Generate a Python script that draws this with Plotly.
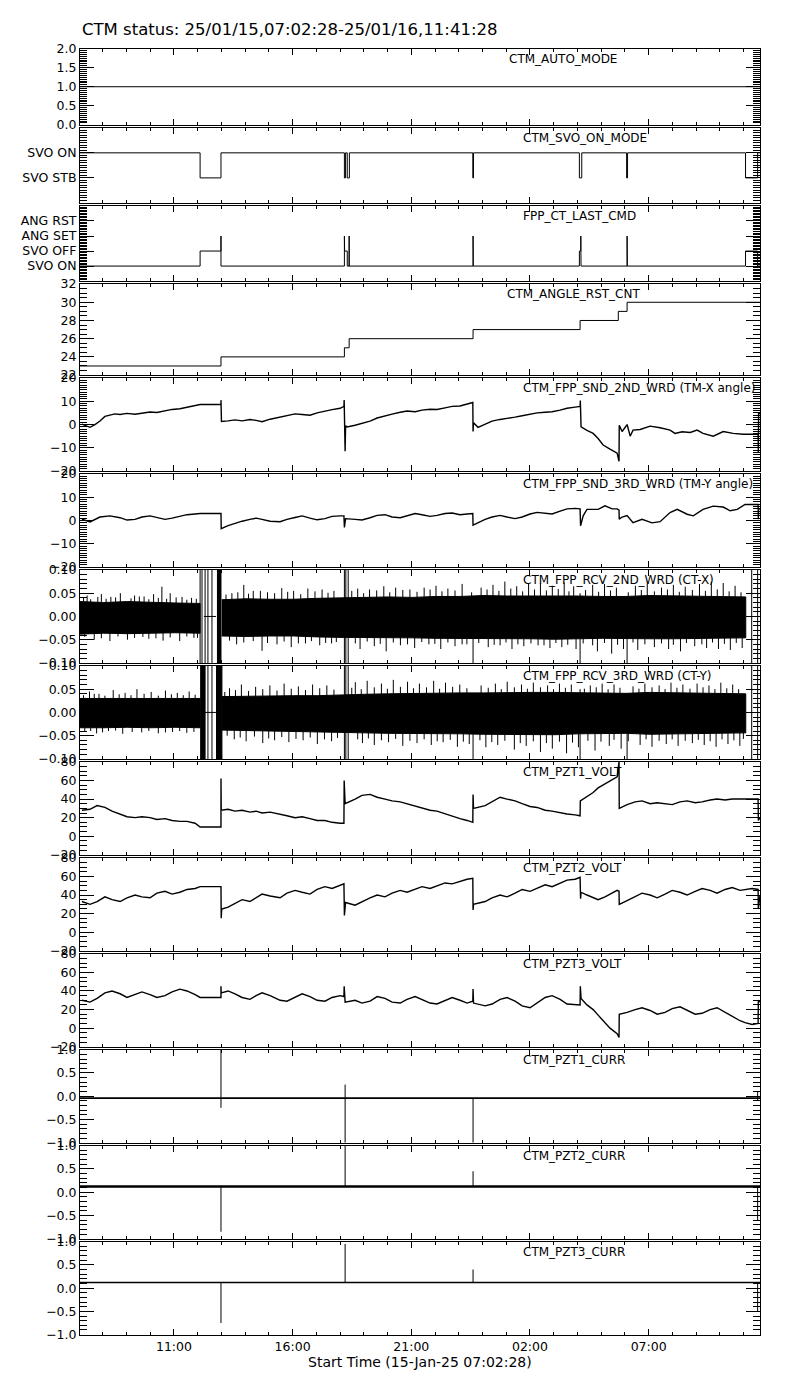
import pandas as pd
import plotly.graph_objects as go

START = pd.Timestamp("2025-01-15 07:02:28")
END = pd.Timestamp("2025-01-16 11:41:28")
END_H = (END - START) / pd.Timedelta(hours=1)

TITLE = "CTM status: 25/01/15,07:02:28-25/01/16,11:41:28"
XTITLE = "Start Time (15-Jan-25 07:02:28)"

labels = ["CTM_AUTO_MODE", "CTM_SVO_ON_MODE", "FPP_CT_LAST_CMD", "CTM_ANGLE_RST_CNT",
          "CTM_FPP_SND_2ND_WRD (TM-X angle)", "CTM_FPP_SND_3RD_WRD (TM-Y angle)",
          "CTM_FPP_RCV_2ND_WRD (CT-X)", "CTM_FPP_RCV_3RD_WRD (CT-Y)",
          "CTM_PZT1_VOLT", "CTM_PZT2_VOLT", "CTM_PZT3_VOLT",
          "CTM_PZT1_CURR", "CTM_PZT2_CURR", "CTM_PZT3_CURR"]

# ---------------- data (time = hours since start) ----------------
auto_t = [0, END_H]
auto_v = [1, 1]

svo_t = [0, 5.06, 5.06, 5.94, 5.94, 11.14, 11.14, 11.19, 11.19, 11.26, 11.26, 11.35, 11.35,
         16.55, 16.55, 16.58, 16.58, 21.04, 21.04, 21.14, 21.14, 23.03, 23.03, 23.07, 23.07,
         28.04, 28.04, 28.55, 28.55, END_H]
svo_v = [1, 1, 0, 0, 1, 1, 0, 0, 1, 1, 0, 0, 1,
         1, 0, 0, 1, 1, 0, 0, 1, 1, 0, 0, 1,
         1, 0, 0, 1, 1]

cmd_t = [0, 5.06, 5.06, 5.94, 5.94, 5.94, 11.14, 11.14, 11.15, 11.26, 11.26, 11.34, 11.34, 11.34,
         16.56, 16.56, 16.57, 21.04, 21.04, 21.10, 21.10, 21.11, 23.05, 23.05, 23.06,
         28.04, 28.04, 28.55, 28.55, END_H]
cmd_v = [0, 0, 1, 1, 2, 0, 0, 2, 1, 1, 0, 0, 2, 0,
         0, 2, 0, 0, 1, 1, 2, 0, 0, 2, 0,
         0, 1, 1, 0, 0]

cnt_t = [0, 5.94, 5.94, 11.14, 11.14, 11.34, 11.34, 16.56, 16.56, 21.07, 21.07, 22.68, 22.68, 23.05, 23.05, END_H]
cnt_v = [23, 23, 24, 24, 25, 25, 26, 26, 27, 27, 28, 28, 29, 29, 30, 30]

snd2_t = [0.08, 0.25, 0.42, 0.63, 0.84, 1.05, 1.26, 1.47, 1.69, 1.98, 2.32, 2.61, 2.95, 3.24, 3.58,
          3.88, 4.21, 4.51, 4.85, 5.06, 5.94, 5.94, 5.96, 6.24, 6.53, 6.83, 7.16, 7.42, 7.67, 8.01,
          8.43, 8.72, 9.06, 9.36, 9.69, 9.99, 10.32, 10.62, 10.96, 11.12, 11.13, 11.15, 11.17, 11.19,
          11.25, 11.59, 11.88, 12.22, 12.52, 12.85, 13.15, 13.49, 13.78, 14.12, 14.41, 14.75, 15.04,
          15.38, 15.68, 16.01, 16.31, 16.55, 16.56, 16.58, 16.77, 17.07, 17.36, 17.70, 17.99, 18.33,
          18.63, 18.96, 19.26, 19.60, 19.89, 20.23, 20.52, 20.86, 21.07, 21.08, 21.11, 21.36, 21.62,
          21.83, 22.04, 22.33, 22.63, 22.71, 22.72, 22.84, 23.05, 23.18, 23.30, 23.60, 24.02, 24.44,
          24.86, 25.07, 25.37, 25.71, 26.00, 26.25, 26.68, 27.10, 27.52, 27.94, 28.44, 28.57, 28.58,
          28.59, END_H]
snd2_v = [0.2, -0.5, -1.2, 0.0, 1.5, 3.5, 4.2, 4.6, 4.3, 4.8, 4.4, 5.0, 5.4, 5.2, 6.0,
          6.5, 6.8, 7.5, 8.3, 8.6, 8.6, 10.5, 1.3, 1.6, 2.0, 1.6, 2.2, 1.8, 1.2, 2.3,
          3.2, 4.0, 4.6, 4.3, 4.0, 5.0, 5.8, 6.4, 7.0, 7.8, 10.5, -0.5, -11.5, -0.5,
          -1.0, -0.3, 0.5, 1.5, 2.8, 3.8, 4.5, 5.3, 5.8, 5.5, 6.2, 6.6, 6.5,
          7.2, 7.8, 8.0, 8.8, 9.5, -3.0, 0.8, -1.2, 0.0, 1.5, 2.2, 2.8, 3.2,
          3.8, 4.5, 5.0, 5.3, 5.5, 6.2, 7.0, 7.5, 7.8, 10.3, -1.0, -2.5, -3.8,
          -6.0, -8.8, -10.6, -12.3, -15.8, -0.3, -3.0, 0.0, -5.0, -2.4, -2.1, -0.7, -1.4,
          -2.4, -3.8, -3.1, -3.4, -2.4, -3.8, -5.0, -3.0, -3.8, -4.2, -4.2, -4.2, -12.0,
          4.7, 4.7]

snd3_t = [0.08, 0.42, 0.84, 1.26, 1.69, 1.98, 2.32, 2.61, 2.95, 3.24, 3.58, 3.88, 4.21, 4.51, 4.85,
          5.06, 5.94, 5.95, 6.24, 6.53, 6.83, 7.16, 7.42, 7.67, 8.01, 8.43, 8.72, 9.06, 9.36, 9.69,
          9.99, 10.32, 10.62, 10.96, 11.12, 11.14, 11.19, 11.59, 11.88, 12.22, 12.52, 12.85, 13.15,
          13.49, 13.78, 14.12, 14.41, 14.75, 15.04, 15.38, 15.68, 16.01, 16.31, 16.55, 16.56, 16.77,
          17.07, 17.36, 17.70, 17.99, 18.33, 18.63, 18.96, 19.26, 19.60, 19.89, 20.23, 20.52, 20.86,
          21.07, 21.09, 21.20, 21.36, 21.83, 22.12, 22.42, 22.63, 22.71, 22.72, 22.84, 23.05, 23.30,
          23.68, 24.10, 24.44, 24.86, 25.16, 25.58, 25.84, 26.25, 26.68, 27.10, 27.39, 27.69, 28.02,
          28.44, 28.57, 28.58, 28.59, END_H]
snd3_v = [0.6, -0.6, 1.5, 2.0, 1.2, 0.2, 0.5, 1.5, 2.0, 1.2, 0.5, 1.0, 1.8, 2.5, 2.8,
          3.0, 3.0, -3.5, -2.2, -1.2, -0.3, 0.5, 1.0, 0.5, -0.3, -0.5, 0.5, 1.3, 2.0, 1.0,
          0.3, 0.8, 1.8, 2.0, 2.0, -3.0, 0.8, 0.5, 0.2, 1.2, 2.2, 2.5, 1.5,
          1.2, 2.0, 3.0, 2.5, 1.8, 2.2, 3.0, 3.2, 2.5, 2.8, 3.0, -2.0, -1.0,
          0.5, 1.5, 2.2, 1.5, 0.8, 1.5, 2.8, 3.5, 3.0, 2.8, 4.0, 5.0, 5.2,
          5.0, -2.3, 2.0, 4.8, 4.8, 6.3, 5.0, 5.0, 4.5, 0.6, 1.5, 2.1, -0.9,
          0.5, -1.0, -0.5, 3.4, 4.8, 2.7, 2.0, 4.8, 6.2, 5.8, 4.2, 4.8, 6.9,
          6.9, 6.9, 0.5, 5.0, 5.0]

# CT receive words: band of the noise (segment times, upper edge, lower edge)
rcv2_env = [
    ([0, 1, 2, 3, 4, 5.06],
     [0.032, 0.030, 0.032, 0.030, 0.029, 0.028],
     [-0.038, -0.036, -0.037, -0.036, -0.035, -0.036]),
    ([5.77, 5.94], [0.11, 0.11], [-0.11, -0.11]),
    ([5.97, 7, 8, 9, 10, 11, 12, 13, 14, 15, 16, 17, 18, 19, 20, 21, 22, 23, 24, 25, 26, 27, 28.05],
     [0.036, 0.038, 0.037, 0.037, 0.039, 0.040, 0.040, 0.042, 0.041, 0.043, 0.043, 0.045, 0.044,
      0.044, 0.045, 0.044, 0.043, 0.043, 0.045, 0.044, 0.043, 0.043, 0.042],
     [-0.042, -0.043, -0.042, -0.042, -0.044, -0.045, -0.045, -0.046, -0.046, -0.047, -0.047, -0.048,
      -0.048, -0.048, -0.049, -0.048, -0.047, -0.047, -0.048, -0.048, -0.047, -0.047, -0.046]),
]
# tall noise excursions
rcv2_peak_t = [0.3, 0.9, 1.3, 1.7, 2.3, 2.7, 3.1, 3.45, 3.8, 4.3, 4.7,
               6.4, 6.9, 7.3, 7.9, 8.5, 9.0, 9.6, 10.2, 10.7, 11.7, 12.2, 12.8, 13.3, 13.9, 14.5,
               15.0, 15.5, 16.1, 16.9, 17.4, 17.9, 18.4, 18.9, 19.4, 19.9, 20.4, 20.8, 21.6, 22.1,
               22.6, 23.4, 23.9, 24.5, 25.0, 25.5, 26.1, 26.6, 27.1, 27.6,
               0.6, 1.26, 2.0, 2.9, 3.5, 4.2, 4.8,
               6.6, 7.67, 8.3, 8.9, 9.5, 10.1, 10.6, 11.8, 12.4, 12.9, 13.5, 14.1, 14.7, 15.2, 15.8,
               16.3, 17.2, 17.7, 18.2, 18.7, 19.3, 19.8, 20.3, 20.9, 21.8, 22.4, 22.9, 23.5, 24.2,
               24.8, 25.3, 25.9, 26.4, 26.9, 27.4, 27.9]
rcv2_peak_v = [0.045, 0.048, 0.042, 0.050, 0.045, 0.043, 0.048, 0.064, 0.050, 0.042, 0.040,
               0.050, 0.068, 0.055, 0.052, 0.061, 0.055, 0.060, 0.058, 0.055, 0.060, 0.058, 0.065,
               0.062, 0.058, 0.062, 0.066, 0.060, 0.070, 0.062, 0.068, 0.075, 0.065, 0.070, 0.072,
               0.066, 0.073, 0.065, 0.068, 0.070, 0.062, 0.066, 0.070, 0.062, 0.068, 0.064, 0.070,
               0.075, 0.072, 0.066,
               -0.050, -0.053, -0.050, -0.048, -0.052, -0.053, -0.046,
               -0.060, -0.074, -0.060, -0.066, -0.058, -0.062, -0.058, -0.070, -0.064, -0.075,
               -0.062, -0.068, -0.060, -0.070, -0.064, -0.060, -0.066, -0.062, -0.070, -0.064,
               -0.062, -0.068, -0.066, -0.070, -0.075, -0.080, -0.070, -0.072, -0.066, -0.070,
               -0.075, -0.064, -0.068, -0.070, -0.072, -0.068]
# smaller excursions along the band edges
rcv2_small_t = [0.15, 0.45, 0.75, 1.1, 1.5, 2.15, 2.5, 2.9, 3.3, 3.65, 4.05, 4.5, 4.9,
                6.15, 6.65, 7.1, 7.6, 8.2, 8.75, 9.3, 9.9, 10.45, 11.45, 11.95, 12.5, 13.05, 13.6,
                14.2, 14.75, 15.25, 15.8, 16.5, 17.15, 17.65, 18.15, 18.65, 19.15, 19.65, 20.15,
                20.6, 21.3, 21.85, 22.35, 23.1, 23.65, 24.2, 24.75, 25.25, 25.8, 26.35, 26.85,
                27.35, 27.85,
                0.2, 0.9, 1.6, 2.3, 2.65, 3.2, 3.8, 4.5, 4.95,
                6.3, 6.9, 7.3, 7.9, 8.6, 9.2, 9.75, 10.35, 10.8, 11.6, 12.1, 12.65, 13.2, 13.8,
                14.4, 14.95, 15.5, 16.1, 16.8, 17.45, 17.95, 18.45, 19.0, 19.55, 20.05, 20.55,
                21.2, 21.6, 22.1, 22.65, 23.3, 23.8, 24.5, 25.0, 25.55, 26.2, 26.65, 27.15, 27.65]
rcv2_small_v = [0.040, 0.037, 0.042, 0.038, 0.041, 0.039, 0.043, 0.037, 0.040, 0.038, 0.041, 0.036, 0.038,
                0.047, 0.052, 0.049, 0.055, 0.050, 0.053, 0.048, 0.054, 0.051, 0.055, 0.050, 0.056,
                0.052, 0.057, 0.053, 0.058, 0.054, 0.056, 0.052, 0.058, 0.055, 0.060, 0.054, 0.058,
                0.056, 0.059, 0.054, 0.057, 0.053, 0.056, 0.052, 0.057, 0.054, 0.058, 0.053, 0.057,
                0.055, 0.058, 0.054, 0.052,
                -0.044, -0.047, -0.043, -0.046, -0.044, -0.047, -0.045, -0.043, -0.046,
                -0.052, -0.056, -0.053, -0.057, -0.054, -0.058, -0.053, -0.057, -0.055, -0.058,
                -0.054, -0.059, -0.056, -0.060, -0.055, -0.059, -0.056, -0.060, -0.057, -0.061,
                -0.056, -0.060, -0.058, -0.062, -0.057, -0.061, -0.058, -0.062, -0.057, -0.061,
                -0.056, -0.060, -0.058, -0.061, -0.057, -0.060, -0.056, -0.059, -0.057]
rcv2_spk_t = [5.06, 5.14, 5.27, 5.39, 5.56, 11.14, 11.20, 11.30, 16.56, 21.07, 23.05, 28.30, 28.55]
rcv2_spk_lo = [-0.11, -0.11, -0.11, -0.11, -0.11, -0.11, -0.11, -0.11, -0.11, -0.11, -0.11, -0.11, -0.11]
rcv2_spk_hi = [0.11, 0.11, 0.11, 0.11, 0.11, 0.11, 0.11, 0.11, 0.04, 0.05, 0.03, 0.11, 0.11]
rcv2_flat_t = [5.22, 5.73]
rcv2_flat_v = [0.0, 0.0]

rcv3_env = [
    ([0, 1, 2, 3, 4, 5.06],
     [0.030, 0.030, 0.031, 0.030, 0.031, 0.030],
     [-0.033, -0.033, -0.032, -0.033, -0.032, -0.033]),
    ([5.06, 5.27], [0.11, 0.11], [-0.11, -0.11]),
    ([5.73, 5.98], [0.11, 0.11], [-0.11, -0.11]),
    ([5.98, 7, 8, 9, 10, 11, 12, 13, 14, 15, 16, 17, 18, 19, 20, 21, 22, 23, 24, 25, 26, 27, 28.05],
     [0.034, 0.035, 0.035, 0.036, 0.036, 0.038, 0.039, 0.040, 0.041, 0.041, 0.042, 0.042, 0.043,
      0.043, 0.043, 0.042, 0.041, 0.041, 0.043, 0.042, 0.041, 0.041, 0.040],
     [-0.038, -0.040, -0.040, -0.041, -0.042, -0.043, -0.044, -0.045, -0.045, -0.046, -0.046, -0.047,
      -0.048, -0.048, -0.048, -0.046, -0.045, -0.045, -0.047, -0.046, -0.045, -0.045, -0.044]),
]
rcv3_peak_t = [0.4, 0.8, 1.4, 1.9, 2.4, 3.0, 3.6, 4.1, 4.6,
               6.3, 6.8, 7.4, 8.0, 8.6, 9.2, 9.8, 10.4, 11.6, 12.1, 12.7, 13.2, 13.8, 14.3, 14.9,
               15.4, 16.0, 16.9, 17.5, 18.0, 18.6, 19.1, 19.7, 20.2, 20.7, 21.5, 22.0, 22.5, 23.3,
               23.8, 24.4, 24.9, 25.4, 26.0, 26.5, 27.0, 27.5,
               0.2, 0.7, 1.2, 1.8, 2.6, 3.3, 3.9, 4.5,
               6.5, 7.0, 7.7, 8.2, 8.8, 9.4, 10.0, 10.6, 11.9, 12.4, 13.0, 13.6, 14.2, 14.8, 15.3,
               15.9, 16.4, 17.1, 17.6, 18.3, 18.8, 19.4, 19.9, 20.5, 21.0, 21.7, 22.3, 22.8, 23.6,
               24.1, 24.7, 25.2, 25.8, 26.3, 26.8, 27.3, 27.8]
rcv3_peak_v = [0.045, 0.040, 0.048, 0.042, 0.050, 0.044, 0.047, 0.042, 0.045,
               0.052, 0.060, 0.055, 0.058, 0.062, 0.056, 0.060, 0.058, 0.065, 0.068, 0.062, 0.070,
               0.066, 0.062, 0.068, 0.064, 0.060, 0.058, 0.062, 0.066, 0.060, 0.064, 0.058, 0.062,
               0.060, 0.058, 0.062, 0.060, 0.056, 0.062, 0.058, 0.064, 0.060, 0.062, 0.058, 0.064,
               0.060,
               -0.042, -0.045, -0.040, -0.046, -0.043, -0.045, -0.042, -0.044,
               -0.058, -0.062, -0.066, -0.060, -0.064, -0.060, -0.068, -0.062, -0.066, -0.070,
               -0.064, -0.072, -0.066, -0.070, -0.064, -0.074, -0.068, -0.075, -0.070, -0.080,
               -0.072, -0.085, -0.078, -0.088, -0.075, -0.082, -0.072, -0.078, -0.070, -0.074,
               -0.068, -0.072, -0.066, -0.070, -0.074, -0.068, -0.072, -0.066]
rcv3_small_t = [0.15, 0.6, 1.05, 1.65, 2.15, 2.7, 3.3, 3.85, 4.35, 4.85,
                6.1, 6.55, 7.1, 7.7, 8.3, 8.9, 9.5, 10.1, 10.7, 11.45, 11.85, 12.4, 12.95, 13.5,
                14.05, 14.6, 15.15, 15.7, 16.3, 17.2, 17.75, 18.3, 18.85, 19.4, 19.95, 20.45,
                21.25, 21.75, 22.25, 22.75, 23.55, 24.1, 24.65, 25.15, 25.7, 26.25, 26.75, 27.25, 27.75,
                0.45, 0.95, 1.5, 2.2, 2.9, 3.6, 4.2, 4.8,
                6.2, 6.75, 7.35, 7.95, 8.5, 9.1, 9.7, 10.3, 10.85, 11.7, 12.15, 12.7, 13.3, 13.9,
                14.5, 15.05, 15.6, 16.15, 16.85, 17.35, 17.9, 18.55, 19.1, 19.65, 20.2, 20.75,
                21.4, 21.95, 22.5, 23.1, 23.85, 24.4, 24.95, 25.5, 26.05, 26.55, 27.05, 27.55, 27.95]
rcv3_small_v = [0.037, 0.040, 0.036, 0.039, 0.037, 0.040, 0.036, 0.039, 0.037, 0.038,
                0.044, 0.048, 0.046, 0.050, 0.047, 0.051, 0.048, 0.052, 0.049, 0.053, 0.050,
                0.054, 0.051, 0.055, 0.052, 0.054, 0.051, 0.055, 0.052, 0.053, 0.050, 0.054,
                0.051, 0.054, 0.050, 0.053, 0.051, 0.054, 0.050, 0.053, 0.051, 0.054, 0.050,
                0.053, 0.051, 0.054, 0.050, 0.052, 0.050,
                -0.040, -0.043, -0.039, -0.042, -0.040, -0.043, -0.040, -0.042,
                -0.050, -0.054, -0.052, -0.056, -0.053, -0.057, -0.054, -0.058, -0.055, -0.058,
                -0.056, -0.060, -0.057, -0.061, -0.058, -0.062, -0.059, -0.063, -0.060, -0.064,
                -0.061, -0.066, -0.062, -0.066, -0.063, -0.065, -0.061, -0.063, -0.059, -0.062,
                -0.058, -0.061, -0.058, -0.061, -0.059, -0.062, -0.058, -0.060, -0.057]
rcv3_spk_t = [5.39, 5.56, 11.14, 11.20, 11.30, 16.56, 21.07, 23.05, 28.30, 28.55]
rcv3_spk_lo = [-0.11, -0.11, -0.11, -0.11, -0.11, -0.11, -0.11, -0.11, -0.11, -0.11]
rcv3_spk_hi = [0.11, 0.11, 0.11, 0.11, 0.11, 0.04, 0.05, 0.03, 0.11, 0.11]
rcv3_flat_t = [5.27, 5.73]
rcv3_flat_v = [0.0, 0.0]

pzt1_t = [0.08, 0.42, 0.72, 1.05, 1.35, 1.69, 1.98, 2.32, 2.61, 2.95, 3.24, 3.58, 3.88, 4.21, 4.51,
          4.85, 5.06, 5.94, 5.94, 5.95, 6.24, 6.53, 6.83, 7.16, 7.42, 7.67, 8.01, 8.43, 8.72, 9.06,
          9.36, 9.69, 9.99, 10.32, 10.62, 10.96, 11.12, 11.13, 11.17, 11.59, 11.88, 12.22, 12.52,
          12.85, 13.15, 13.49, 13.78, 14.12, 14.41, 14.75, 15.04, 15.38, 15.68, 16.01, 16.31, 16.55,
          16.56, 16.58, 17.07, 17.36, 17.70, 17.99, 18.33, 18.63, 18.96, 19.26, 19.60, 19.89, 20.23,
          20.52, 20.86, 21.07, 21.08, 21.36, 21.62, 21.83, 22.04, 22.33, 22.63, 22.71, 22.72, 23.05,
          23.39, 23.68, 24.02, 24.32, 24.65, 24.95, 25.28, 25.58, 25.92, 26.21, 26.55, 26.84, 27.18,
          27.48, 27.81, 28.32, 28.57, 28.58, END_H]
pzt1_v = [28, 29, 33, 31, 27, 24, 21, 20, 21, 20, 18, 19, 17, 16, 16,
          14, 10, 10, 62, 28, 29, 27, 28, 26, 27, 25, 26, 24, 22, 20,
          21, 19, 17, 17, 15, 14, 14, 60, 35, 40, 44, 45, 42,
          40, 38, 37, 35, 33, 31, 28, 27, 24, 22, 19, 17, 15,
          45, 30, 33, 37, 42, 40, 38, 35, 32, 31, 28, 27, 25,
          24, 23, 22, 38, 43, 47, 52, 55, 59, 64, 80, 30, 34,
          37, 38, 35, 36, 35, 34, 37, 38, 36, 37, 39, 40, 39,
          40, 40, 40, 40, 17, 20]

pzt2_t = [0.08, 0.42, 0.72, 1.05, 1.35, 1.69, 1.98, 2.32, 2.61, 2.95, 3.24, 3.58, 3.88, 4.21, 4.51,
          4.85, 5.06, 5.94, 5.95, 5.97, 6.24, 6.53, 6.83, 7.16, 7.42, 7.67, 8.01, 8.43, 8.72, 9.06,
          9.36, 9.69, 9.99, 10.32, 10.62, 10.96, 11.12, 11.14, 11.19, 11.59, 11.88, 12.22, 12.52,
          12.85, 13.15, 13.49, 13.78, 14.12, 14.41, 14.75, 15.04, 15.38, 15.68, 16.01, 16.31, 16.55,
          16.56, 16.58, 17.07, 17.36, 17.70, 17.99, 18.33, 18.63, 18.96, 19.26, 19.60, 19.89, 20.23,
          20.52, 20.86, 21.07, 21.09, 21.11, 21.36, 21.62, 21.83, 22.12, 22.42, 22.63, 22.71, 22.72,
          23.05, 23.39, 23.68, 24.02, 24.32, 24.65, 24.95, 25.28, 25.58, 25.92, 26.21, 26.55, 26.84,
          27.18, 27.48, 27.81, 28.32, 28.57, 28.58, END_H]
pzt2_v = [33, 30, 33, 38, 35, 33, 37, 40, 38, 37, 42, 44, 41, 43, 46,
          47, 49, 49, 15, 25, 27, 31, 35, 33, 37, 41, 39, 37, 42, 45,
          43, 41, 46, 49, 47, 50, 52, 18, 32, 29, 33, 37, 40,
          38, 42, 45, 43, 46, 49, 47, 50, 53, 52, 55, 57, 58,
          24, 30, 33, 37, 40, 38, 42, 46, 44, 47, 51, 49, 53,
          56, 57, 59, 36, 43, 40, 37, 35, 38, 42, 45, 44, 30,
          34, 38, 42, 40, 37, 41, 45, 43, 40, 44, 47, 45, 42,
          46, 48, 45, 47, 46, 25, 40]

pzt3_t = [0.08, 0.42, 0.72, 1.05, 1.35, 1.69, 1.98, 2.32, 2.61, 2.95, 3.24, 3.58, 3.88, 4.21, 4.51,
          4.85, 5.06, 5.94, 5.94, 5.95, 6.24, 6.53, 6.83, 7.16, 7.42, 7.67, 8.01, 8.43, 8.72, 9.06,
          9.36, 9.69, 9.99, 10.32, 10.62, 10.96, 11.12, 11.13, 11.17, 11.59, 11.88, 12.22, 12.52,
          12.85, 13.15, 13.49, 13.78, 14.12, 14.41, 14.75, 15.04, 15.38, 15.68, 16.01, 16.31, 16.55,
          16.56, 16.58, 17.07, 17.36, 17.70, 17.99, 18.33, 18.63, 18.96, 19.26, 19.60, 19.89, 20.23,
          20.52, 20.86, 21.07, 21.08, 21.11, 21.36, 21.62, 21.83, 22.04, 22.33, 22.63, 22.71, 22.72,
          23.05, 23.39, 23.68, 24.02, 24.32, 24.65, 24.95, 25.28, 25.58, 25.92, 26.21, 26.55, 26.84,
          27.18, 27.48, 27.81, 28.02, 28.32, 28.57, 28.58, END_H]
pzt3_v = [30, 28, 32, 38, 40, 37, 33, 36, 39, 36, 33, 35, 39, 42, 40,
          36, 33, 33, 45, 38, 40, 37, 33, 31, 35, 38, 35, 30, 29, 33,
          37, 34, 30, 29, 33, 35, 34, 45, 28, 30, 27, 29, 34,
          32, 28, 27, 31, 34, 31, 27, 26, 30, 33, 30, 27, 29,
          42, 27, 24, 26, 31, 33, 29, 24, 22, 27, 33, 35, 31,
          26, 25, 25, 45, 32, 25, 20, 14, 8, 0, -6, -10, 15,
          17, 20, 22, 19, 15, 17, 21, 23, 19, 15, 16, 20, 22,
          17, 12, 8, 6, 4, 5, 30, 28]

cur1_t = [0, END_H]
cur1_v = [-0.04, -0.04]
cur1_spk_t = [5.94, 11.17, 16.56, 28.55]
cur1_spk_lo = [-0.25, -1.0, -1.0, -0.1]
cur1_spk_hi = [1.0, 0.25, -0.04, 0.1]

cur2_t = [0, END_H]
cur2_v = [0.12, 0.12]
cur2_spk_t = [5.94, 11.17, 16.56, 28.55]
cur2_spk_lo = [-0.85, 0.12, 0.12, -0.6]
cur2_spk_hi = [0.12, 1.0, 0.45, 0.12]

cur3_t = [0, END_H]
cur3_v = [0.12, 0.12]
cur3_spk_t = [5.94, 11.17, 16.56, 28.55]
cur3_spk_lo = [-0.75, 0.12, 0.12, -0.5]
cur3_spk_hi = [0.12, 0.95, 0.4, 0.12]

# ---------------- helpers ----------------
def T(hours):
    return [None if h is None else START + pd.Timedelta(hours=h) for h in hours]

def spikes(ts, lo, hi):
    xs, ys = [], []
    for t, a, b in zip(ts, lo, hi):
        xs += [t, t, None]
        ys += [a, b, None]
    return xs, ys

# page geometry (the browser body adds an 8px margin around the figure)
OFF = 8
W, H = 800 - OFF, 1400 - OFF
PLOT_L, PLOT_R = 80, 760          # page pixels
panels_px = [(41, 118), (121, 197), (200, 276), (279, 371), (374, 468), (471, 565), (568, 662),
             (665, 759), (762, 856), (859, 953), (956, 1050), (1053, 1147), (1150, 1244), (1247, 1341)]

def py(page_y):
    return (H - (page_y - OFF)) / H

def px(page_x):
    return (page_x - PLOT_L) / (PLOT_R - PLOT_L)

TICKFONT = dict(family="DejaVu Sans", size=12.5, color="black")
LABFONT = dict(family="DejaVu Sans", size=12, color="black")
TITLEFONT = dict(family="DejaVu Sans", size=16.5, color="black")
XTFONT = dict(family="DejaVu Sans", size=14, color="black")

fig = go.Figure()
LINE = dict(color="black", width=1)

def add_line(i, t, v, width=1):
    fig.add_trace(go.Scatter(x=T(t), y=v, mode="lines", line=dict(color="black", width=width),
                             xaxis=f"x{i}", yaxis=f"y{i}", hoverinfo="skip"))

def add_spikes(i, ts, lo, hi):
    xs, ys = spikes(ts, lo, hi)
    fig.add_trace(go.Scatter(x=T(xs), y=ys, mode="lines", line=LINE,
                             xaxis=f"x{i}", yaxis=f"y{i}", hoverinfo="skip"))

def add_env(i, env):
    for t, up, lo in env:
        xs = list(t) + list(reversed(t))
        ys = list(up) + list(reversed(lo))
        fig.add_trace(go.Scatter(x=T(xs), y=ys, mode="lines", fill="toself", fillcolor="black",
                                 line=dict(color="black", width=1),
                                 xaxis=f"x{i}", yaxis=f"y{i}", hoverinfo="skip"))

add_line(1, auto_t, auto_v)
add_line(2, svo_t, svo_v)
add_line(3, cmd_t, cmd_v)
add_line(4, cnt_t, cnt_v)
add_line(5, snd2_t, snd2_v, 1.4)
add_line(6, snd3_t, snd3_v, 1.4)
add_env(7, rcv2_env)
add_spikes(7, rcv2_small_t, [0] * len(rcv2_small_t), rcv2_small_v)
add_spikes(7, rcv2_peak_t, [0] * len(rcv2_peak_t), rcv2_peak_v)
add_spikes(7, rcv2_spk_t, rcv2_spk_lo, rcv2_spk_hi)
add_line(7, rcv2_flat_t, rcv2_flat_v)
add_env(8, rcv3_env)
add_spikes(8, rcv3_small_t, [0] * len(rcv3_small_t), rcv3_small_v)
add_spikes(8, rcv3_peak_t, [0] * len(rcv3_peak_t), rcv3_peak_v)
add_spikes(8, rcv3_spk_t, rcv3_spk_lo, rcv3_spk_hi)
add_line(8, rcv3_flat_t, rcv3_flat_v)
add_line(9, pzt1_t, pzt1_v, 1.4)
add_line(10, pzt2_t, pzt2_v, 1.4)
add_line(11, pzt3_t, pzt3_v, 1.4)
add_line(12, cur1_t, cur1_v, 1.8)
add_spikes(12, cur1_spk_t, cur1_spk_lo, cur1_spk_hi)
add_line(13, cur2_t, cur2_v, 2.5)
add_spikes(13, cur2_spk_t, cur2_spk_lo, cur2_spk_hi)
add_line(14, cur3_t, cur3_v, 1.6)
add_spikes(14, cur3_spk_t, cur3_spk_lo, cur3_spk_hi)

# y-axis definitions: range, major ticks, minor step, format, custom labels
yspecs = [
    dict(range=[0, 2], dtick=0.5, tick0=0, minor=0.05, fmt=".1f"),
    dict(range=[-1, 2], vals=[0, 1], text=["SVO STB", "SVO ON"], minor=0.1),
    dict(range=[-1, 4], vals=[0, 1, 2, 3], text=["SVO ON", "SVO OFF", "ANG SET", "ANG RST"], minor=0.1),
    dict(range=[22, 32], dtick=2, tick0=22, minor=0.5, fmt="d"),
    dict(range=[-20, 20], dtick=10, tick0=-20, minor=1, fmt="d"),
    dict(range=[-20, 20], dtick=10, tick0=-20, minor=1, fmt="d"),
    dict(range=[-0.1, 0.1], dtick=0.05, tick0=-0.1, minor=0.01, fmt=".2f"),
    dict(range=[-0.1, 0.1], dtick=0.05, tick0=-0.1, minor=0.01, fmt=".2f"),
    dict(range=[-20, 80], dtick=20, tick0=-20, minor=5, fmt="d"),
    dict(range=[-20, 80], dtick=20, tick0=-20, minor=5, fmt="d"),
    dict(range=[-20, 80], dtick=20, tick0=-20, minor=5, fmt="d"),
    dict(range=[-1, 1], dtick=0.5, tick0=-1, minor=0.1, fmt=".1f"),
    dict(range=[-1, 1], dtick=0.5, tick0=-1, minor=0.1, fmt=".1f"),
    dict(range=[-1, 1], dtick=0.5, tick0=-1, minor=0.1, fmt=".1f"),
]

layout = dict(width=W, height=H,
              margin=dict(l=PLOT_L - OFF, r=W - (PLOT_R - OFF), t=0, b=0),
              paper_bgcolor="white", plot_bgcolor="white", showlegend=False, font=TICKFONT)

for k, ((top, bot), ys) in enumerate(zip(panels_px, yspecs), start=1):
    dom = [py(bot), py(top)]
    xa = dict(domain=[0, 1], anchor=f"y{k}", range=[START, END], showline=True, linecolor="black",
              linewidth=1, mirror="allticks", ticks="inside", ticklen=6, tickcolor="black",
              tickmode="linear", tick0="2025-01-15 11:00:00", dtick=5 * 3600000, tickformat="%H:%M",
              showgrid=False, zeroline=False, showticklabels=(k == 14), tickfont=TICKFONT,
              minor=dict(ticks="inside", ticklen=3, tickcolor="black", tickmode="linear",
                         tick0="2025-01-15 08:00:00", dtick=3600000, showgrid=False))
    if k != 1:
        xa["matches"] = "x"
    ya = dict(domain=dom, anchor=f"x{k}", range=ys["range"], showline=True, linecolor="black",
              linewidth=1, mirror="allticks", ticks="inside", ticklen=14, tickcolor="black",
              showgrid=False, zeroline=False, tickfont=TICKFONT,
              minor=dict(ticks="inside", ticklen=7, tickcolor="black", tickmode="linear",
                         tick0=ys["range"][0], dtick=ys["minor"], showgrid=False))
    if "vals" in ys:
        ya.update(tickmode="array", tickvals=ys["vals"], ticktext=ys["text"])
    else:
        ya.update(tickmode="linear", tick0=ys["tick0"], dtick=ys["dtick"], tickformat=ys["fmt"])
    layout["xaxis" if k == 1 else f"xaxis{k}"] = xa
    layout["yaxis" if k == 1 else f"yaxis{k}"] = ya

fig.update_layout(**layout)

label_x = [507, 521, 521, 505, 521, 521, 521, 521, 521, 521, 521, 521, 521, 521]
for (top, bot), txt, lx in zip(panels_px, labels, label_x):
    fig.add_annotation(text=txt, xref="paper", yref="paper", x=px(lx), y=py(top + 10),
                       xanchor="left", yanchor="middle", showarrow=False, font=LABFONT)

fig.add_annotation(text=TITLE, xref="paper", yref="paper", x=px(80), y=py(22),
                   xanchor="left", yanchor="middle", showarrow=False, font=TITLEFONT)
fig.add_annotation(text=XTITLE, xref="paper", yref="paper", x=px(420), y=py(1369),
                   xanchor="center", yanchor="middle", showarrow=False, font=XTFONT)

fig.write_html("out.html")
